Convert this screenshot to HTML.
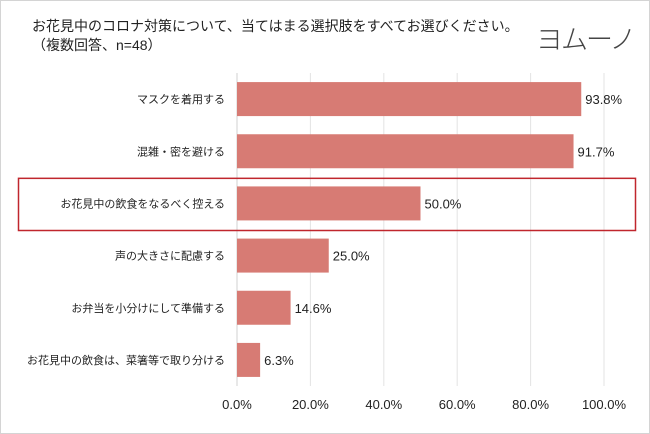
<!DOCTYPE html>
<html><head><meta charset="utf-8"><style>
body{margin:0;background:#fff}
#wrap{position:relative;width:650px;height:434px;overflow:hidden;font-family:"Liberation Sans","Noto Sans CJK JP",sans-serif;color:#222}
#frame{position:absolute;left:0;top:0;width:648px;height:432px;border:1px solid #d4d4d4}
#title{position:absolute;left:32px;top:17px;font-size:14px;line-height:19px}
#logo{position:absolute;left:536px;top:20px;font-size:27px;line-height:36px;color:#444;white-space:nowrap;font-family:"Noto Sans CJK JP",sans-serif;font-weight:300;letter-spacing:-2px}
svg{position:absolute;left:0;top:0}
</style></head><body>
<div id="wrap">
<div id="frame"></div>
<div id="title">お花見中のコロナ対策について、当てはまる選択肢をすべてお選びください。<br>（複数回答、n=48）</div>
<div id="logo">ヨムーノ</div>
<svg id="c" width="650" height="434"></svg>
</div>
<script>
const categories=["マスクを着用する","混雑・密を避ける","お花見中の飲食をなるべく控える","声の大きさに配慮する","お弁当を小分けにして準備する","お花見中の飲食は、菜箸等で取り分ける"];
const values=[93.8,91.7,50.0,25.0,14.6,6.3];
const ticks=[0,20,40,60,80,100];
const tickLabels=["0.0%","20.0%","40.0%","60.0%","80.0%","100.0%"];
const X0=237,X1=604,Y0=73,Y1=386;
const x=v=>X0+(X1-X0)*v/100;
const band=(Y1-Y0)/categories.length;
const y=i=>Y0+band*i;
const svg=document.getElementById('c');const NS='http://www.w3.org/2000/svg';
function mk(t,a){const e=document.createElementNS(NS,t);for(const k in a)e.setAttribute(k,a[k]);svg.appendChild(e);return e;}
ticks.forEach((t,i)=>{
 const l=mk('line',{x1:x(t),x2:x(t),y1:Y0,y2:Y1,stroke:i==0?'#d0d0d0':'#e3e3e3','stroke-width':1});
 
 
 const tx=mk('text',{x:x(t),y:409,'text-anchor':'middle','font-size':13,fill:'#222'});
 tx.textContent=tickLabels[i];
 
 
});
categories.forEach((c,i)=>{
 const cy=y(i)+band/2;
 const r=mk('rect',{x:X0,y:cy-17,width:x(values[i])-X0,height:34,fill:'#d77b74'});
 
 
 const lb=mk('text',{x:225,y:cy+4,'text-anchor':'end','font-size':11,fill:'#222'});
 lb.textContent=c;
 
 
 const v=mk('text',{x:x(values[i])+4,y:cy+5,'font-size':13,fill:'#222'});
 v.textContent=values[i].toFixed(1)+'%';
 
 
});
const hb=mk('rect',{x:18.5,y:y(2)+1,width:617,height:band,fill:'none',stroke:'#c0262d','stroke-width':1.5});


</script>
</body></html>
